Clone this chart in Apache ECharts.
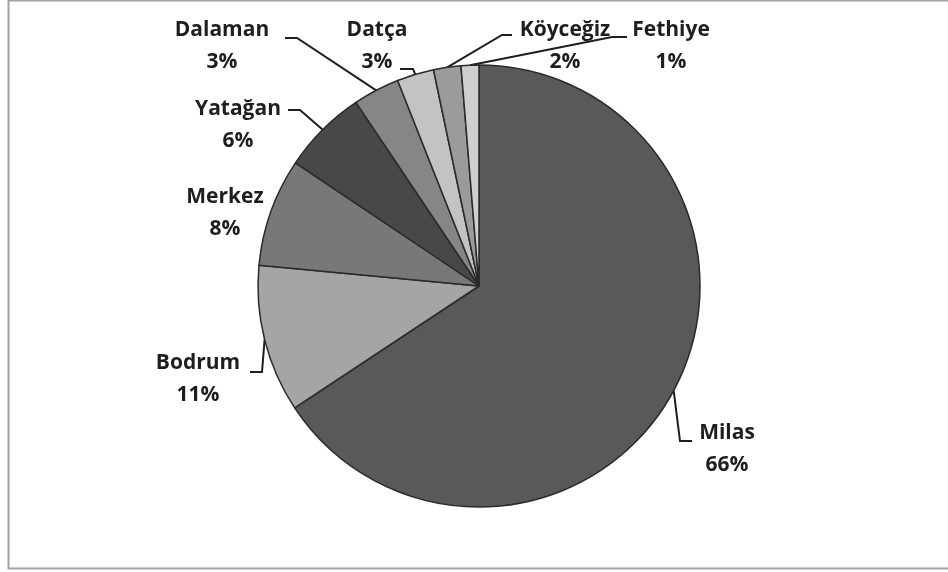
<!DOCTYPE html>
<html>
<head>
<meta charset="utf-8">
<script src="https://cdn.jsdelivr.net/npm/echarts@6/dist/echarts.min.js"></script>
<style>
html,body{margin:0;padding:0;background:#fff;}
#chart{width:948px;height:572px;}
</style>
</head>
<body>
<div id="chart"></div>
<script>
// ---- data ----
var categories = ['Milas', 'Bodrum', 'Merkez', 'Yatağan', 'Dalaman', 'Datça', 'Köyceğiz', 'Fethiye'];
var values = [65.7, 10.8, 7.9, 6.2, 3.4, 2.7, 2.0, 1.3];

// ---- styling (not data) ----
var sliceColors = ['#595959', '#a5a5a5', '#787878', '#484848', '#868686', '#c3c3c3', '#9b9b9b', '#cfcfcf'];
// label placement: block centre, elbow and end of leader line
var labelPlace = [
  {x: 727, y: 449, elbow: [680, 441], end: [692, 441]},
  {x: 198, y: 379, elbow: [262, 372], end: [250, 372]},
  {x: 225, y: 213, elbow: null, end: null},
  {x: 238, y: 125, elbow: [300, 110], end: [288, 110]},
  {x: 222, y: 46, elbow: [297, 38], end: [285, 38]},
  {x: 377, y: 46, elbow: [413, 69], end: [400, 69]},
  {x: 565, y: 46, elbow: [502, 35], end: [512, 35]},
  {x: 671, y: 46, elbow: [612, 37], end: [627, 37]}
];

var chart = echarts.init(document.getElementById('chart'), null, {renderer: 'canvas'});
var seriesData = categories.map(function (c, i) {
  return {name: c, value: values[i], itemStyle: {color: sliceColors[i]}};
});

chart.setOption({
  backgroundColor: '#ffffff',
  animation: false,
  graphic: [{
    type: 'rect',
    shape: {x: 8.5, y: 0.5, width: 960, height: 568},
    style: {fill: 'none', stroke: '#a0a0a0', lineWidth: 2},
    silent: true,
    z: -1
  }],
  series: [{
    type: 'pie',
    center: [479, 286],
    radius: [0, 221],
    startAngle: 90,
    clockwise: true,
    avoidLabelOverlap: false,
    data: seriesData,
    itemStyle: {borderColor: '#2a2a2a', borderWidth: 1.5},
    label: {
      show: true,
      position: 'outer',
      alignTo: 'none',
      formatter: function (p) { return p.name + '\n' + Math.round(p.percent) + '%'; },
      fontFamily: 'Open Sans',
      fontWeight: 'bold',
      fontSize: 21,
      lineHeight: 32,
      color: '#1e1e1e',
      align: 'center'
    },
    labelLine: {
      show: true,
      length: 10,
      length2: 10,
      smooth: false,
      lineStyle: {color: '#1e1e1e', width: 2}
    },
    labelLayout: function (params) {
      var c = labelPlace[params.dataIndex];
      var a = params.labelLinePoints ? params.labelLinePoints[0] : null;
      var res = {x: c.x, y: c.y, align: 'center', verticalAlign: 'middle'};
      if (a) {
        res.labelLinePoints = [a, c.elbow || a, c.end || a];
      }
      return res;
    }
  }]
});
</script>
</body>
</html>
